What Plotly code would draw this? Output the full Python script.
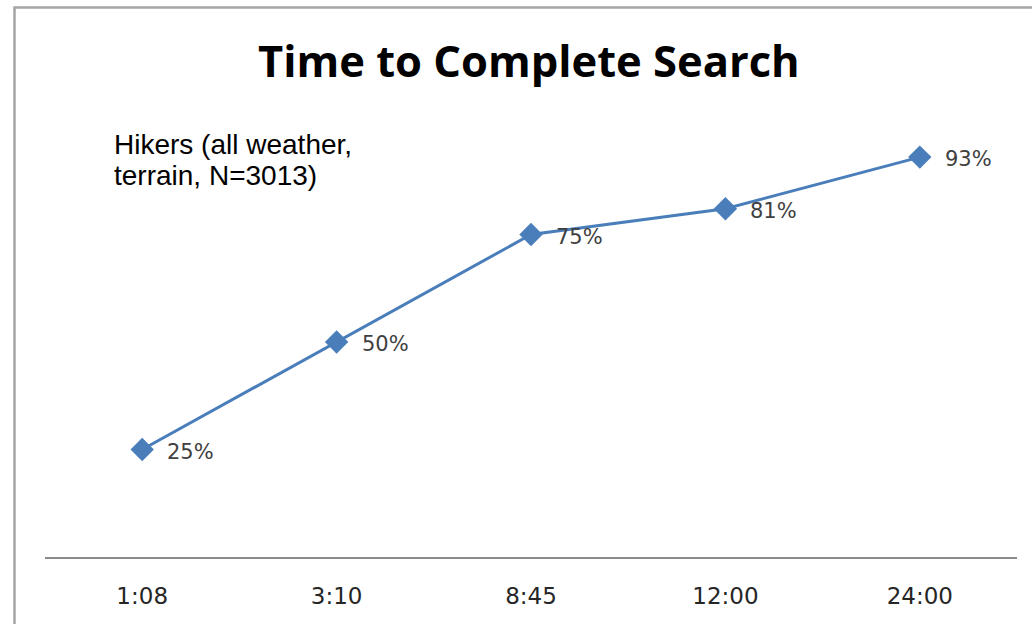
import plotly.graph_objects as go

# Search duration milestones and cumulative share of hikers found
times = ["1:08", "3:10", "8:45", "12:00", "24:00"]
found_share = [0.25, 0.50, 0.75, 0.81, 0.93]

title_text = "Time to Complete Search"
note_lines = ["Hikers (all weather,", "terrain, N=3013)"]

W, H = 1032, 624
ML, MR, MT, MB = 45, 15, 127, 67
PW, PH = W - ML - MR, H - MT - MB


def px_x(px):
    return (px - ML) / PW


def px_y(py):
    return (H - MB - py) / PH


blue = "#4a7ebb"
label_color = "#404040"

fig = go.Figure()
fig.add_trace(go.Scatter(
    x=times,
    y=found_share,
    mode="lines+markers",
    line=dict(color=blue, width=3),
    marker=dict(symbol="diamond", size=18, color=blue),
    hoverinfo="skip",
    showlegend=False,
))

annotations = []
# value labels to the right of each point
for t, v in zip(times, found_share):
    annotations.append(dict(
        x=t, y=v, xref="x", yref="y",
        text=f"{v:.0%}", showarrow=False,
        xanchor="left", yanchor="middle", xshift=23, yshift=-2,
        font=dict(family="DejaVu Sans", size=21, color=label_color),
    ))

# two-line note in the upper left
for i, line in enumerate(note_lines):
    annotations.append(dict(
        x=px_x(112), y=px_y(144 + 31 * i), xref="paper", yref="paper",
        text=line, showarrow=False, xanchor="left", yanchor="middle",
        font=dict(family="Liberation Sans", size=28, color="#000000"),
    ))

# chart title
annotations.append(dict(
    x=px_x(529), y=px_y(61), xref="paper", yref="paper",
    text=f"<b>{title_text}</b>", showarrow=False,
    xanchor="center", yanchor="middle",
    font=dict(family="Open Sans", size=43.5, color="#000000"),
))

fig.update_layout(
    width=W, height=H,
    margin=dict(l=ML, r=MR, t=MT, b=MB, pad=0),
    paper_bgcolor="white", plot_bgcolor="white",
    annotations=annotations,
    shapes=[dict(
        type="rect", xref="paper", yref="paper",
        x0=px_x(14.5), x1=px_x(1045), y0=px_y(640), y1=px_y(7.5),
        line=dict(color="#a5a5a5", width=2.5), fillcolor="rgba(0,0,0,0)",
        layer="below",
    )],
    xaxis=dict(
        type="category", range=[-0.5, len(times) - 0.5],
        showgrid=False, zeroline=False,
        showline=True, linecolor="#8c8c8c", linewidth=1.5,
        ticks="", ticklabelstandoff=18,
        tickfont=dict(family="DejaVu Sans", size=23, color="#262626"),
        fixedrange=True,
    ),
    yaxis=dict(
        range=[0, 1], visible=False, showgrid=False, zeroline=False,
        fixedrange=True,
    ),
)

fig.write_html("out.html")
